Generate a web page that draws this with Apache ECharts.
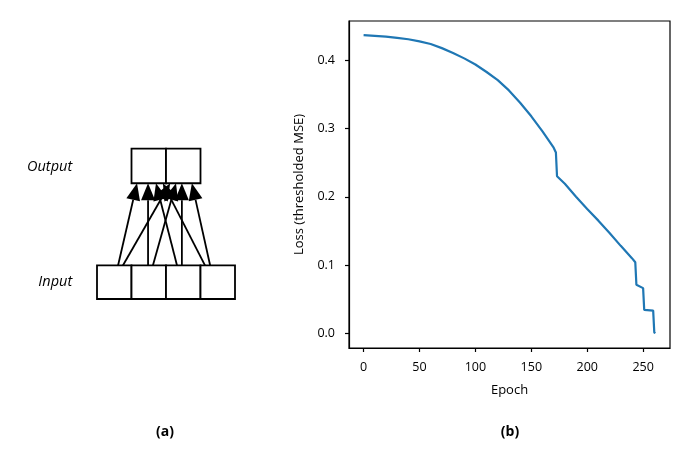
<!DOCTYPE html>
<html><head><meta charset="utf-8">
<script src="https://cdn.jsdelivr.net/npm/echarts@6/dist/echarts.min.js"></script>
<style>html,body{margin:0;padding:0;background:#fff}#c{width:692px;height:450px}</style>
</head><body><div id="c"></div>
<script>
// ---- Panel (b): loss curve ----
const epochs = [0, 10, 20, 30, 40, 50, 60, 70, 80, 90, 100, 110, 120, 130, 140, 150, 160, 170, 172, 173, 180, 190, 200, 210, 220, 230, 240, 243, 244, 250, 251, 259, 260, 261];
const lossValues = [0.437, 0.436, 0.435, 0.433, 0.431, 0.428, 0.424, 0.418, 0.411, 0.403, 0.394, 0.383, 0.371, 0.356, 0.338, 0.318, 0.296, 0.272, 0.265, 0.230, 0.219, 0.200, 0.182, 0.165, 0.147, 0.128, 0.110, 0.104, 0.071, 0.066, 0.034, 0.033, 0.001, 0.000];
const xTicks = [0, 50, 100, 150, 200, 250];
const yTicks = [0.0, 0.1, 0.2, 0.3, 0.4];

// ---- Panel (a): network diagram (box units) ----
const inputBoxes = [0, 1, 2, 3];     // left edge of each input box
const outputBoxes = [1, 2];          // left edge of each output box
const inputLayerY = 0;               // bottom of input layer
const outputLayerY = 3.45;           // bottom of output layer
const layerNames = ['Input', 'Output'];
const edgeStartX = [0.61, 0.75, 1.48, 1.62, 2.32, 2.46, 3.13, 3.28];
const edgeEndX   = [1.16, 2.12, 1.48, 2.29, 1.71, 2.46, 1.91, 2.75];

const FONT = 'Open Sans';
const chart = echarts.init(document.getElementById('c'), null, {renderer: 'canvas'});

const lossData = epochs.map((e, i) => [e, lossValues[i]]);
const boxData = [];
inputBoxes.forEach(x => boxData.push([x, inputLayerY, x + 1, inputLayerY + 1]));
outputBoxes.forEach(x => boxData.push([x, outputLayerY, x + 1, outputLayerY + 1.03]));
const edgeData = edgeStartX.map((s, i) => [s, inputLayerY + 1, edgeEndX[i], outputLayerY]);
const labelData = [[-0.72, inputLayerY + 0.5, 0], [-0.72, outputLayerY + 0.5, 1]];

chart.setOption({
  animation: false,
  grid: [
    {left: 349, right: 22, top: 21, bottom: 102, show: true, borderColor: '#000', borderWidth: 1.2, containLabel: false},
    {left: 97, width: 138, top: 148, height: 151, show: false}
  ],
  xAxis: [
    {gridIndex: 0, type: 'value', min: -13.05, max: 274.05,
     name: 'Epoch', nameLocation: 'middle', nameGap: 36,
     nameTextStyle: {fontFamily: FONT, fontSize: 13, color: '#000'},
     axisLine: {show: true, onZero: false, lineStyle: {color: '#000', width: 1.2}},
     axisTick: {show: true, length: 4, customValues: xTicks, lineStyle: {color: '#000', width: 1.2}},
     axisLabel: {customValues: xTicks, fontFamily: FONT, fontSize: 12.5, color: '#000', margin: 13},
     splitLine: {show: false}},
    {gridIndex: 1, type: 'value', min: 0, max: 4, show: false}
  ],
  yAxis: [
    {gridIndex: 0, type: 'value', min: -0.0218, max: 0.4578,
     name: 'Loss (thresholded MSE)', nameLocation: 'middle', nameGap: 43,
     nameTextStyle: {fontFamily: FONT, fontSize: 13, color: '#000'},
     axisLine: {show: true, onZero: false, lineStyle: {color: '#000', width: 1.2}},
     axisTick: {show: true, length: 4, customValues: yTicks, lineStyle: {color: '#000', width: 1.2}},
     axisLabel: {customValues: yTicks, formatter: v => v.toFixed(1), fontFamily: FONT, fontSize: 12.5, color: '#000', margin: 14},
     splitLine: {show: false}},
    {gridIndex: 1, type: 'value', min: 0, max: 4.5, show: false}
  ],
  series: [
    {type: 'line', xAxisIndex: 0, yAxisIndex: 0, data: lossData, showSymbol: false,
     lineStyle: {color: '#1f77b4', width: 2.2}, silent: true},
    {type: 'custom', xAxisIndex: 1, yAxisIndex: 1, data: edgeData, silent: true,
     renderItem: function (params, api) {
       const p0 = api.coord([api.value(0), api.value(1)]);
       const p1 = api.coord([api.value(2), api.value(3)]);
       const dx = p1[0] - p0[0], dy = p1[1] - p0[1];
       const len = Math.sqrt(dx * dx + dy * dy);
       const ux = dx / len, uy = dy / len;
       const hl = 17, hw = 7;
       const bx = p1[0] - ux * hl, by = p1[1] - uy * hl;
       return {type: 'group', children: [
         {type: 'line', shape: {x1: p0[0], y1: p0[1], x2: bx, y2: by}, style: {stroke: '#000', lineWidth: 1.8}},
         {type: 'polygon', shape: {points: [[p1[0], p1[1]], [bx - uy * hw, by + ux * hw], [bx + uy * hw, by - ux * hw]]}, style: {fill: '#000'}}
       ]};
     }},
    {type: 'custom', xAxisIndex: 1, yAxisIndex: 1, data: boxData, silent: true, z: 3,
     renderItem: function (params, api) {
       const a = api.coord([api.value(0), api.value(3)]);
       const b = api.coord([api.value(2), api.value(1)]);
       return {type: 'rect', shape: {x: a[0], y: a[1], width: b[0] - a[0], height: b[1] - a[1]},
               style: {fill: '#fff', stroke: '#000', lineWidth: 1.8}};
     }},
    {type: 'custom', xAxisIndex: 1, yAxisIndex: 1, data: labelData, silent: true,
     renderItem: function (params, api) {
       const p = api.coord([api.value(0), api.value(1)]);
       return {type: 'text', x: p[0], y: p[1],
               style: {text: layerNames[api.value(2)], fill: '#000', font: 'italic 14.5px "' + FONT + '"', align: 'right', verticalAlign: 'middle'}};
     }}
  ],
  graphic: [
    {type: 'text', x: 165, y: 432, style: {text: '(a)', font: 'bold 14px "' + FONT + '"', fill: '#000', align: 'center', verticalAlign: 'middle'}},
    {type: 'text', x: 510, y: 432, style: {text: '(b)', font: 'bold 14px "' + FONT + '"', fill: '#000', align: 'center', verticalAlign: 'middle'}}
  ]
});
</script></body></html>
